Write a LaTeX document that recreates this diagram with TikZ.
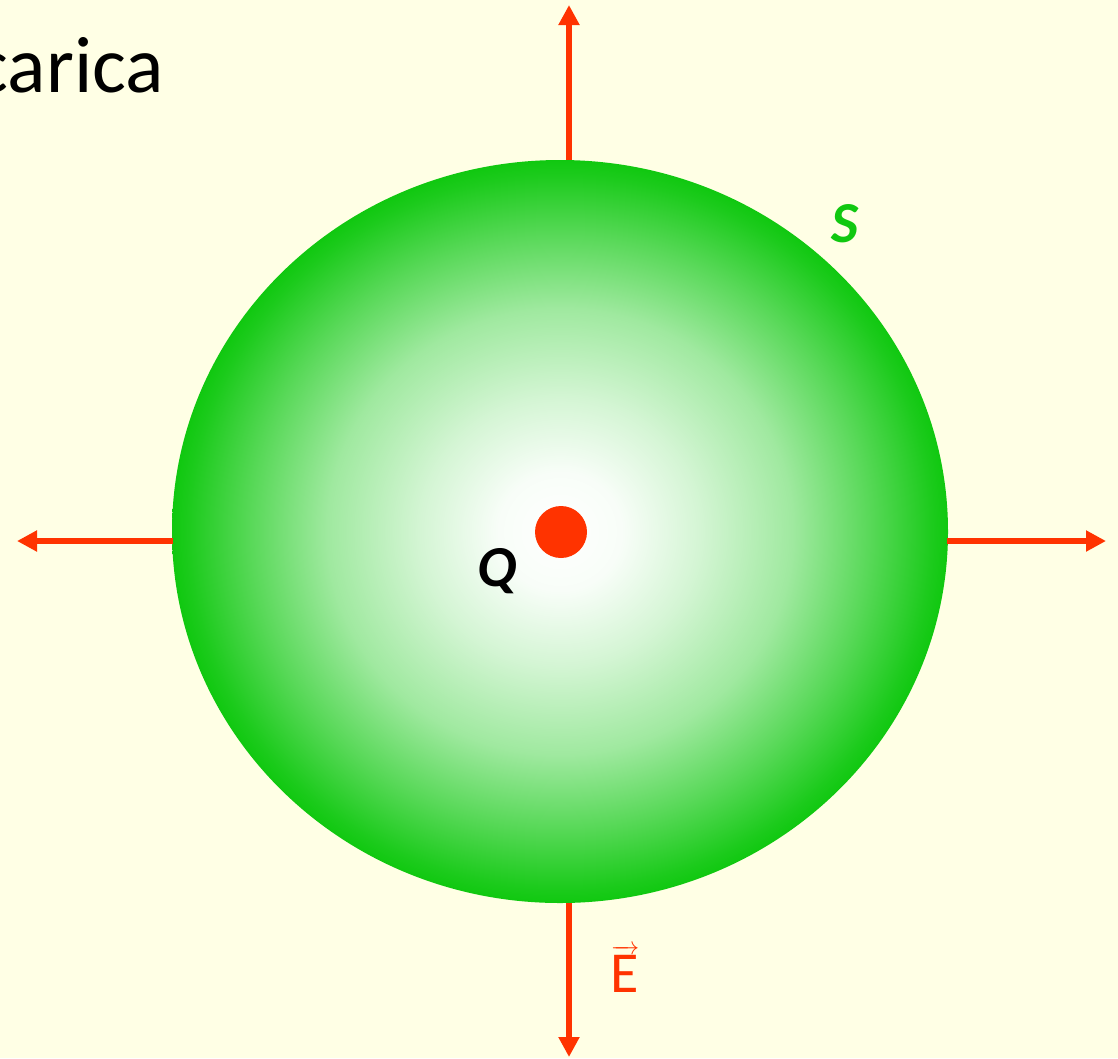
\documentclass[tikz,border=0pt]{standalone}
\usepackage{amsmath}
\usepackage{fontspec}
\setmainfont{Carlito}
\usetikzlibrary{arrows.meta,shapes.geometric}
\definecolor{bgyellow}{RGB}{255,255,229}
\definecolor{sgreen}{RGB}{16,200,16}
\definecolor{fieldred}{RGB}{255,51,0}
\pgfdeclareradialshading{glow}{\pgfpoint{0bp}{0bp}}{%
  color(0bp)=(white); color(4bp)=(white!97!sgreen);
  color(9bp)=(sgreen!18!white); color(15bp)=(sgreen!40!white);
  color(20bp)=(sgreen!70!white); color(24bp)=(sgreen!95!white);
  color(25bp)=(sgreen); color(50bp)=(sgreen)}
\tikzset{
  fieldarrow/.style={draw=fieldred, line width=6pt,
    -{Triangle[length=20pt,width=20pt]}},
  biglabel/.style={font=\fontsize{58}{68}\selectfont, inner sep=0pt, anchor=base},
}
\begin{document}
\begin{tikzpicture}[x=1pt,y=-1pt]
\useasboundingbox[fill=bgyellow] (0,0) rectangle (1118,1058);
\begin{scope}
\clip (0,0) rectangle (1118,1058);
\node[font=\fontsize{80}{96}\selectfont, inner sep=0pt, anchor=base east] (title) at (164,92) {carica};
\end{scope}
\node[ellipse, minimum width=776pt, minimum height=743pt, inner sep=0pt,
      shading=glow] (surf) at (560,531.5) {};
\fill[fieldred] (561,532) circle[radius=26pt];
\coordinate (charge) at (561,532);
\coordinate (top0) at (569,160);
\coordinate (top1) at (569,5);
\coordinate (bot0) at (569,903);
\coordinate (bot1) at (569,1057);
\coordinate (lft0) at (173,541);
\coordinate (lft1) at (17,541);
\coordinate (rgt0) at (947,541);
\coordinate (rgt1) at (1106,541);
\draw[fieldarrow] (top0) -- (top1);
\draw[fieldarrow] (bot0) -- (bot1);
\draw[fieldarrow] (lft0) -- (lft1);
\draw[fieldarrow] (rgt0) -- (rgt1);
\node[biglabel, text=black, font=\fontsize{58}{68}\selectfont\bfseries\itshape] (qlab) at (497,586) {Q};
\node[biglabel, text=sgreen, font=\fontsize{58}{68}\selectfont\bfseries\itshape] (slab) at (845,242) {S};
\node[biglabel, text=fieldred] (elab) at (625,992) {$\overrightarrow{\text{E}}$};
\end{tikzpicture}
\end{document}
